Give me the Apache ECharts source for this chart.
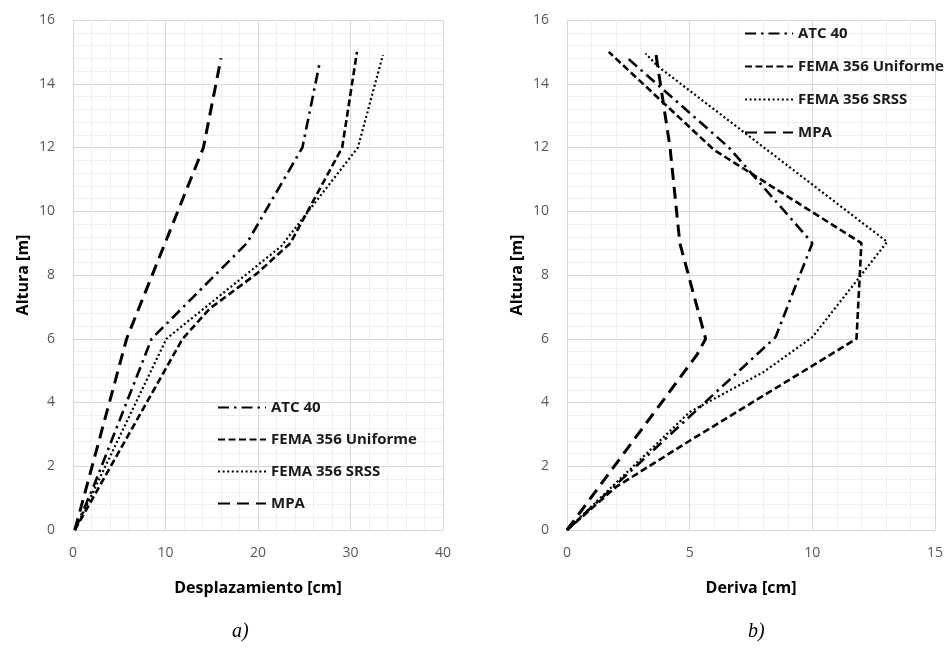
<!DOCTYPE html>
<html>
<head>
<meta charset="utf-8">
<script src="https://cdn.jsdelivr.net/npm/echarts@6/dist/echarts.min.js"></script>
<style>
html,body{margin:0;padding:0;background:#fff;}
#chart{width:950px;height:654px;}
</style>
</head>
<body>
<div id="chart"></div>
<script>
// ---- Data ----
const seriesNames = ['ATC 40', 'FEMA 356 Uniforme', 'FEMA 356 SRSS', 'MPA'];

// a) Desplazamiento [cm] vs Altura [m]
const despATC_x = [0.2, 2.2, 8.5, 18.8, 24.8, 26.7];
const despATC_y = [0, 1.35, 6, 9, 12, 14.7];
const despUni_x = [0.2, 11.85, 14.8, 19.9, 23.5, 29.1, 30.7];
const despUni_y = [0, 6, 6.95, 8.05, 9, 12, 15];
const despSRSS_x = [0.2, 10.1, 22.5, 30.8, 33.5];
const despSRSS_y = [0, 6, 8.9, 12, 14.9];
const despMPA_x = [0.2, 5.8, 14.1, 16.0];
const despMPA_y = [0, 6, 12, 14.8];

// b) Deriva [cm] vs Altura [m]
const derATC_x = [0, 8.5, 10, 6.6, 2.4];
const derATC_y = [0, 6.05, 9, 12, 14.85];
const derUni_x = [0, 2, 5, 11.8, 12, 6, 1.7];
const derUni_y = [0, 1.35, 2.8, 6, 9, 11.92, 15];
const derSRSS_x = [0, 5, 8, 10, 13.05, 3.7, 3.2];
const derSRSS_y = [0, 3.7, 4.95, 6.05, 9.04, 14.55, 14.95];
const derMPA_x = [0, 5.3, 5.65, 4.6, 4.2, 3.6];
const derMPA_y = [0, 5.5, 6, 9, 12, 15.05];

const xTicksA = [0, 10, 20, 30, 40];
const xTicksB = [0, 5, 10, 15];
const yTicks = [0, 2, 4, 6, 8, 10, 12, 14, 16];

// ---- Styles ----
const styles = [
  {type: [11, 5, 2.5, 5], width: 2.6},   // ATC 40: dash-dot
  {type: [7, 3.5], width: 2.6},          // FEMA Uniforme: dashes
  {type: [2, 2.6], width: 2.2},          // FEMA SRSS: dotted
  {type: [12, 7], width: 3}              // MPA: long dashes
];

function pairs(xs, ys) { return xs.map((x, i) => [x, ys[i]]); }

const dataA = [pairs(despATC_x, despATC_y), pairs(despUni_x, despUni_y), pairs(despSRSS_x, despSRSS_y), pairs(despMPA_x, despMPA_y)];
const dataB = [pairs(derATC_x, derATC_y), pairs(derUni_x, derUni_y), pairs(derSRSS_x, derSRSS_y), pairs(derMPA_x, derMPA_y)];

const FONT = '"Open Sans", "Noto Sans", sans-serif';

function mkSeries(data, idx) {
  return data.map((d, i) => ({
    name: seriesNames[i],
    type: 'line',
    xAxisIndex: idx,
    yAxisIndex: idx,
    data: d,
    symbol: 'none',
    smooth: false,
    animation: false,
    color: '#000',
    lineStyle: {color: '#000', width: styles[i].width, type: styles[i].type, cap: 'butt'}
  }));
}

const gridLine = {show: true, lineStyle: {color: '#d9d9d9', width: 1}};
const minorLine = {show: true, lineStyle: {color: '#efefef', width: 1}};

function xAxis(idx, max, interval, name) {
  return {
    type: 'value', gridIndex: idx, min: 0, max: max, interval: interval,
    name: name, nameLocation: 'middle', nameGap: 50,
    nameTextStyle: {fontFamily: FONT, fontWeight: 'bold', fontSize: 16, color: '#000'},
    axisLine: {show: true, onZero: false, lineStyle: {color: '#d9d9d9'}},
    axisTick: {show: false},
    axisLabel: {fontFamily: FONT, fontSize: 14, color: '#595959', margin: 16},
    splitLine: gridLine,
    minorTick: {show: false, splitNumber: 5},
    minorSplitLine: minorLine
  };
}
function yAxis(idx) {
  return {
    type: 'value', gridIndex: idx, min: 0, max: 16, interval: 2,
    name: 'Altura [m]', nameLocation: 'middle', nameGap: 42,
    nameTextStyle: {fontFamily: FONT, fontWeight: 'bold', fontSize: 16, color: '#000'},
    axisLine: {show: true, onZero: false, lineStyle: {color: '#d9d9d9'}},
    axisTick: {show: false},
    axisLabel: {fontFamily: FONT, fontSize: 14, color: '#595959', margin: 18},
    splitLine: gridLine,
    minorTick: {show: false, splitNumber: 5},
    minorSplitLine: minorLine
  };
}

const legendBase = {
  data: seriesNames, orient: 'vertical', itemWidth: 48, itemHeight: 14,
  itemStyle: {opacity: 0},
  textStyle: {fontFamily: FONT, fontWeight: 'bold', fontSize: 15, color: '#1a1a1a'},
  selectedMode: false
};

const chart = echarts.init(document.getElementById('chart'), null, {renderer: 'canvas'});
chart.setOption({
  backgroundColor: '#fff',
  animation: false,
  grid: [
    {left: 73, top: 20, width: 370, height: 510},
    {left: 567, top: 20, width: 368, height: 510}
  ],
  xAxis: [xAxis(0, xTicksA[xTicksA.length - 1], xTicksA[1] - xTicksA[0], 'Desplazamiento [cm]'),
          xAxis(1, xTicksB[xTicksB.length - 1], xTicksB[1] - xTicksB[0], 'Deriva [cm]')],
  yAxis: [yAxis(0), yAxis(1)],
  legend: [
    Object.assign({}, legendBase, {left: 212, top: 395, itemGap: 17}),
    Object.assign({}, legendBase, {left: 739, top: 21, itemGap: 18})
  ],
  title: [
    {text: 'a)', left: 232, top: 622, padding: 0, textStyle: {fontFamily: '"Liberation Serif", serif', fontStyle: 'italic', fontWeight: 'normal', fontSize: 20, color: '#000'}},
    {text: 'b)', left: 748, top: 622, padding: 0, textStyle: {fontFamily: '"Liberation Serif", serif', fontStyle: 'italic', fontWeight: 'normal', fontSize: 20, color: '#000'}}
  ],
  series: mkSeries(dataA, 0).concat(mkSeries(dataB, 1))
});
</script>
</body>
</html>
